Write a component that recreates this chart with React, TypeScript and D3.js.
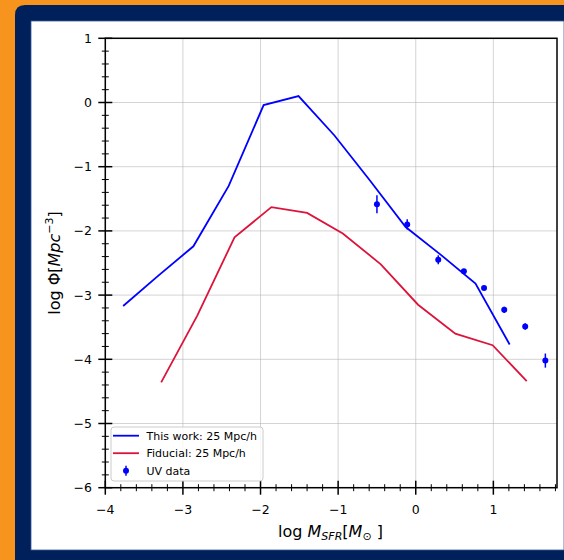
import React from "react";
import * as d3 from "d3";

// Star-formation-rate function: simulation curves and UV-derived points
const thisWorkX = [-3.77, -3.32, -2.865, -2.41, -1.96, -1.51, -1.05, -0.6, -0.13, 0.32, 0.77, 1.21];
const thisWorkY = [-3.17, -2.7, -2.24, -1.3, -0.04, 0.1, -0.51, -1.2, -1.94, -2.37, -2.82, -3.77];

const fiducialX = [-3.28, -2.815, -2.335, -1.86, -1.4, -0.94, -0.45, 0.03, 0.51, 0.99, 1.43];
const fiducialY = [-4.36, -3.32, -2.1, -1.63, -1.72, -2.04, -2.52, -3.15, -3.6, -3.78, -4.34];

const uvX = [-0.5, -0.11, 0.29, 0.62, 0.88, 1.14, 1.41, 1.67];
const uvY = [-1.585, -1.9, -2.45, -2.63, -2.89, -3.23, -3.49, -4.02];
const uvErr = [0.14, 0.08, 0.07, 0.03, 0.03, 0.05, 0.05, 0.11];

const xTicks = [-4, -3, -2, -1, 0, 1];
const yTicks = [-6, -5, -4, -3, -2, -1, 0, 1];

const legendLabels = ["This work: 25 Mpc/h", "Fiducial: 25 Mpc/h", "UV data"];

const W = 564;
const H = 560;
const plot = { left: 105.3, right: 557, top: 38.3, bottom: 487.7 };
const BLUE = "#0000ff";
const RED = "#dc143c";
const FONT = "DejaVu Sans, sans-serif";

export default function App() {
  const x = d3.scaleLinear().domain([-4, 1.82]).range([plot.left, plot.right]);
  const y = d3.scaleLinear().domain([-6, 1]).range([plot.bottom, plot.top]);
  const fmt = d3.format("d");

  const line = d3
    .line<[number, number]>()
    .x((d) => x(d[0]))
    .y((d) => y(d[1]));

  const blueData = thisWorkX.map((v, i) => [v, thisWorkY[i]] as [number, number]);
  const redData = fiducialX.map((v, i) => [v, fiducialY[i]] as [number, number]);

  const xMinor = d3.range(-4, 1.8001, 0.2).filter((v) => Math.abs(v - Math.round(v)) > 1e-6);
  const yMinor = d3.range(-6, 1.0001, 0.2).filter((v) => Math.abs(v - Math.round(v)) > 1e-6);

  const legX = 111;
  const legY = 427;
  const rowY = [435.7, 453.2, 470.7];

  return (
    <svg
      width={W}
      height={H}
      style={{ position: "absolute", left: 0, top: 0 }}
      fontFamily={FONT}
    >
      {/* page background and framed panel */}
      <rect x={0} y={0} width={W} height={H} fill="#f7941d" />
      <path
        d={`M15,${H} L15,15 Q15,5 25,5 L${W},5 L${W},${H} Z`}
        fill="#00205b"
      />
      <rect x={31} y={21} width={W - 31} height={529} fill="#ffffff" stroke="#3a5a9a" strokeWidth={0.8} />

      {/* grid */}
      <g stroke="#b0b0b0" strokeOpacity={0.55} strokeWidth={1}>
        {xTicks.map((t) => (
          <line key={"gx" + t} x1={x(t)} x2={x(t)} y1={plot.top} y2={plot.bottom} />
        ))}
        {yTicks.map((t) => (
          <line key={"gy" + t} x1={plot.left} x2={plot.right} y1={y(t)} y2={y(t)} />
        ))}
      </g>

      {/* curves */}
      <path d={line(blueData) ?? ""} fill="none" stroke={BLUE} strokeWidth={1.8} />
      <path d={line(redData) ?? ""} fill="none" stroke={RED} strokeWidth={1.8} />

      {/* UV data with error bars */}
      <g fill={BLUE} stroke={BLUE}>
        {uvX.map((v, i) => (
          <g key={"uv" + i}>
            <line
              x1={x(v)}
              x2={x(v)}
              y1={y(uvY[i] + uvErr[i])}
              y2={y(uvY[i] - uvErr[i])}
              strokeWidth={1.5}
            />
            <circle cx={x(v)} cy={y(uvY[i])} r={3} stroke="none" />
          </g>
        ))}
      </g>

      {/* spines */}
      <rect
        x={plot.left}
        y={plot.top}
        width={plot.right - plot.left}
        height={plot.bottom - plot.top}
        fill="none"
        stroke="#000"
        strokeWidth={1.5}
      />

      {/* ticks */}
      <g stroke="#000">
        {xTicks.map((t) => (
          <line key={"xt" + t} x1={x(t)} x2={x(t)} y1={plot.bottom - 7} y2={plot.bottom + 7} strokeWidth={1.5} />
        ))}
        {xMinor.map((t, i) => (
          <line key={"xm" + i} x1={x(t)} x2={x(t)} y1={plot.bottom - 3.5} y2={plot.bottom + 3.5} strokeWidth={1} />
        ))}
        {yTicks.map((t) => (
          <line key={"yt" + t} x1={plot.left - 7} x2={plot.left + 7} y1={y(t)} y2={y(t)} strokeWidth={1.5} />
        ))}
        {yMinor.map((t, i) => (
          <line key={"ym" + i} x1={plot.left - 3.5} x2={plot.left + 3.5} y1={y(t)} y2={y(t)} strokeWidth={1} />
        ))}
      </g>

      {/* tick labels */}
      <g fontSize={12.5} fill="#000">
        {xTicks.map((t) => (
          <text key={"xl" + t} x={x(t)} y={514} textAnchor="middle">
            {fmt(t)}
          </text>
        ))}
        {yTicks.map((t) => (
          <text key={"yl" + t} x={92} y={y(t)} dy="0.36em" textAnchor="end">
            {fmt(t)}
          </text>
        ))}
      </g>

      {/* axis titles */}
      <text x={330.5} y={537} textAnchor="middle" fontSize={16} fill="#000">
        <tspan>log  </tspan>
        <tspan fontStyle="italic">M</tspan>
        <tspan fontStyle="italic" fontSize={11} dy={3}>SFR</tspan>
        <tspan dy={-3}>[</tspan>
        <tspan fontStyle="italic">M</tspan>
        <tspan fontSize={11} dy={3}>⊙</tspan>
        <tspan dy={-3}> ]</tspan>
      </text>
      <text
        transform={`translate(59.5,263) rotate(-90)`}
        textAnchor="middle"
        fontSize={16}
        fill="#000"
      >
        <tspan>log Φ[</tspan>
        <tspan fontStyle="italic">Mpc</tspan>
        <tspan fontSize={11} dy={-6.5}>−3</tspan>
        <tspan dy={6.5}>]</tspan>
      </text>

      {/* legend */}
      <rect
        x={legX}
        y={legY}
        width={152}
        height={54}
        rx={3}
        fill="#ffffff"
        fillOpacity={0.8}
        stroke="#cccccc"
        strokeWidth={1}
      />
      <line x1={113} x2={139} y1={rowY[0]} y2={rowY[0]} stroke={BLUE} strokeWidth={1.8} />
      <line x1={113} x2={139} y1={rowY[1]} y2={rowY[1]} stroke={RED} strokeWidth={1.8} />
      <line x1={126} x2={126} y1={rowY[2] - 5} y2={rowY[2] + 5} stroke={BLUE} strokeWidth={1.5} />
      <circle cx={126} cy={rowY[2]} r={3} fill={BLUE} />
      <g fontSize={11} fill="#000">
        {legendLabels.map((l, i) => (
          <text key={l} x={146.5} y={rowY[i]} dy="0.36em">
            {l}
          </text>
        ))}
      </g>
    </svg>
  );
}
